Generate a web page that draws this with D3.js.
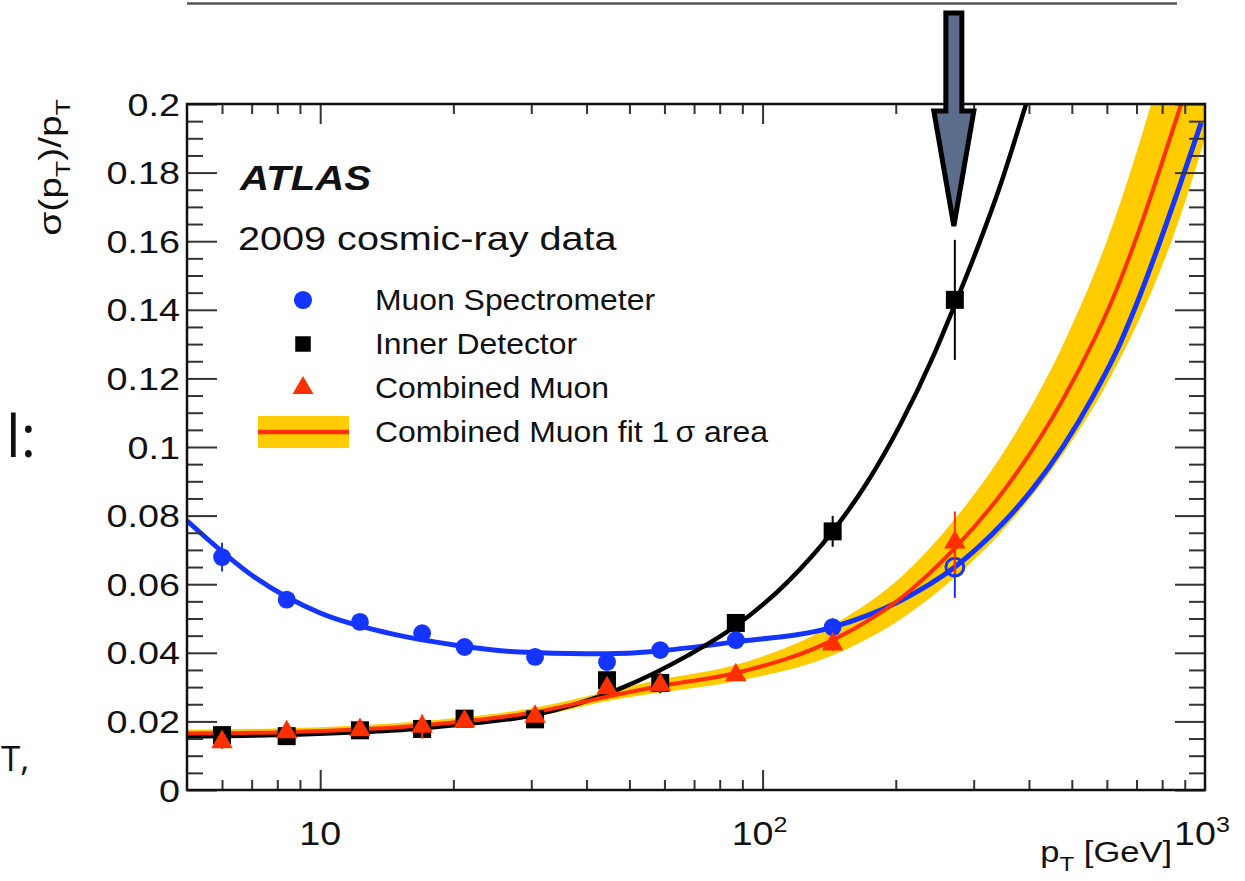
<!DOCTYPE html>
<html>
<head>
<meta charset="utf-8">
<script src="https://cdn.jsdelivr.net/npm/d3@7"></script>
<style>
  html, body { margin: 0; padding: 0; background: #fff; overflow: hidden; }
  svg { display: block; }
  text { font-family: "Liberation Sans", Arial, Helvetica, sans-serif; fill: #111; }
</style>
</head>
<body>
<svg id="chart" width="1245" height="881"></svg>
<script>
// ---- measured resolution points (pT in GeV) ----
const ptPoints = [6.0, 8.4, 12.3, 17.0, 21.2, 30.6, 44.5, 58.7, 87, 144, 272];
const msValues = [0.0679, 0.0555, 0.0490, 0.0457, 0.0417, 0.0388, 0.0373, 0.0408, 0.0437, 0.0475, 0.0650];
const msErrors = [0.0042, 0.0015, 0.0012, 0.0012, 0.0010, 0.0010, 0.0015, 0.0015, 0.0020, 0.0025, 0.0090];
const idValues = [0.0160, 0.0157, 0.0174, 0.0178, 0.0208, 0.0206, 0.0320, 0.0312, 0.0487, 0.0754, 0.1429];
const idErrors = [0.0012, 0.0012, 0.0012, 0.0012, 0.0012, 0.0015, 0.0020, 0.0030, 0.0025, 0.0045, 0.0175];
const cbValues = [0.0140, 0.0169, 0.0175, 0.0185, 0.0200, 0.0214, 0.0297, 0.0306, 0.0335, 0.0425, 0.0722];
const cbErrors = [0.0020, 0.0015, 0.0015, 0.0035, 0.0015, 0.0015, 0.0015, 0.0020, 0.0015, 0.0020, 0.0090];

// ---- fitted resolution curves ----
const msFitPt  = [5, 7.1, 10, 14.2, 20.1, 28.3, 40, 49.4, 58.7, 85.6, 144, 205, 272, 350, 408, 477, 561, 644, 687, 980];
const msFitVal = [0.0785, 0.0621, 0.0516, 0.0458, 0.0423, 0.0402, 0.0397, 0.0399, 0.0406, 0.0431, 0.0475, 0.0552, 0.0650, 0.0779, 0.0878, 0.1000, 0.1152, 0.1304, 0.1390, 0.1945];

const idFitPt  = [5, 8, 12, 16, 20, 30, 47.5, 67.5, 87.5, 114, 144, 172, 204, 243, 272, 308, 344, 376, 394];
const idFitVal = [0.0156, 0.0160, 0.0168, 0.0177, 0.0189, 0.0217, 0.0295, 0.0391, 0.0481, 0.0607, 0.0754, 0.0895, 0.1061, 0.1264, 0.1415, 0.1590, 0.1760, 0.1915, 0.2000];

const cbFitPt  = [5, 8, 10, 15, 20, 30, 47.5, 58.7, 87.5, 144, 208, 272, 357, 424, 477, 561, 604, 883];
const cbFitVal = [0.0165, 0.0168, 0.0172, 0.0183, 0.0197, 0.0225, 0.0280, 0.0303, 0.0342, 0.0437, 0.0565, 0.0705, 0.0886, 0.1027, 0.1138, 0.1312, 0.1401, 0.2000];

// 1 sigma area around the combined fit
const bandPt   = [5, 10, 20, 30, 47.5, 58.7, 87.5, 144, 208, 272, 357, 477, 604, 883, 1000];
const bandLow  = [0.0154, 0.0162, 0.0186, 0.0212, 0.0266, 0.0284, 0.0318, 0.0393, 0.0503, 0.0620, 0.0771, 0.0979, 0.1191, 0.1680, 0.1900];
const bandHigh = [0.0176, 0.0183, 0.0209, 0.0238, 0.0296, 0.0322, 0.0366, 0.0481, 0.0627, 0.0790, 0.1001, 0.1297, 0.1611, 0.2320, 0.2600];

// ---- axis ticks ----
const yMajor = [0, 0.02, 0.04, 0.06, 0.08, 0.1, 0.12, 0.14, 0.16, 0.18, 0.2];
const yMinor = d3.range(0, 0.2001, 0.005).filter(v => Math.abs(v / 0.02 - Math.round(v / 0.02)) > 1e-6);
const xMajor = [10, 100];
const xMinor = [6, 7, 8, 9, 20, 30, 40, 50, 60, 70, 80, 90, 200, 300, 400, 500, 600, 700, 800, 900];
const xLabels = [{v: 10, base: "10", exp: ""}, {v: 100, base: "10", exp: "2"}, {v: 1000, base: "10", exp: "3"}];

const legendItems = [
  {label: "Muon Spectrometer", kind: "ms"},
  {label: "Inner Detector", kind: "id"},
  {label: "Combined Muon", kind: "cb"},
  {label: "Combined Muon fit 1\u2009\u03c3 area", kind: "band"}
];

// ---- colours ----
const BLUE = "#1434ff", RED = "#ff3000", YELLOW = "#ffcc00", BLACK = "#000";

const svg = d3.select("#chart");
const L = 187, R = 1205, T = 104, B = 790;
const x = d3.scaleLog().domain([5, 1000]).range([L, R]);
const y = d3.scaleLinear().domain([0, 0.2]).range([B, T]);

// horizontally widened text helper
function label(g, px, py, str, size, sx, anchor, extra) {
  const t = g.append("text")
    .attr("transform", `translate(${px},${py}) scale(${sx},1)`)
    .attr("text-anchor", anchor || "start")
    .style("font-size", size + "px");
  if (str !== null) t.text(str);
  if (extra) extra(t);
  return t;
}

// ---- fragments of surrounding page text ----
svg.append("line").attr("x1", L).attr("x2", 1177).attr("y1", 3.5).attr("y2", 3.5)
  .attr("stroke", "#555").attr("stroke-width", 2.5);
svg.append("text").attr("x", 6).attr("y", 457)
  .style("font-family", "'Open Sans', 'Noto Sans', sans-serif").style("font-size", "58px").text("l:");
svg.append("text").attr("x", 1).attr("y", 771)
  .style("font-family", "'Open Sans', 'Noto Sans', sans-serif").style("font-size", "35px").text("T,");

// ---- plot area ----
const defs = svg.append("defs");
defs.append("clipPath").attr("id", "plotClip")
  .append("rect").attr("x", L).attr("y", T).attr("width", R - L).attr("height", B - T);
const plot = svg.append("g").attr("clip-path", "url(#plotClip)");

const lineOf = (pts, vals) => d3.line()
  .x((d, i) => x(pts[i])).y((d, i) => y(vals[i]))
  .curve(d3.curveMonotoneX)(vals);

// 1 sigma band
plot.append("path")
  .attr("d", d3.area()
    .x((d, i) => x(bandPt[i])).y0((d, i) => y(bandLow[i])).y1((d, i) => y(bandHigh[i]))
    .curve(d3.curveMonotoneX)(bandLow))
  .attr("fill", YELLOW);

plot.append("path").attr("d", lineOf(msFitPt, msFitVal))
  .attr("fill", "none").attr("stroke", BLUE).attr("stroke-width", 5);
plot.append("path").attr("d", lineOf(idFitPt, idFitVal))
  .attr("fill", "none").attr("stroke", BLACK).attr("stroke-width", 4.5);
plot.append("path").attr("d", lineOf(cbFitPt, cbFitVal))
  .attr("fill", "none").attr("stroke", RED).attr("stroke-width", 4);

// markers with error bars
const sym = {
  ms: d3.symbol(d3.symbolCircle, 250)(),
  id: d3.symbol(d3.symbolSquare, 324)(),
  cb: d3.symbol(d3.symbolTriangle, 200)()
};
function drawSeries(vals, errs, kind, color) {
  const g = svg.append("g");
  g.selectAll("line").data(vals).join("line")
    .attr("x1", (d, i) => x(ptPoints[i])).attr("x2", (d, i) => x(ptPoints[i]))
    .attr("y1", (d, i) => y(d - errs[i])).attr("y2", (d, i) => y(d + errs[i]))
    .attr("stroke", color).attr("stroke-width", 2);
  g.selectAll("path").data(vals).join("path")
    .attr("d", sym[kind])
    .attr("transform", (d, i) => `translate(${x(ptPoints[i])},${y(d)})`)
    .attr("fill", (d, i) => (kind === "ms" && i === vals.length - 1) ? "none" : color)
    .attr("stroke", (d, i) => (kind === "ms" && i === vals.length - 1) ? color : "none")
    .attr("stroke-width", 3);
}
drawSeries(idValues, idErrors, "id", BLACK);
drawSeries(msValues, msErrors, "ms", BLUE);
drawSeries(cbValues, cbErrors, "cb", RED);

// ---- frame and ticks ----
const tickStyle = g => g.call(s => s.select(".domain").remove())
  .selectAll("line").attr("stroke", "#333").attr("stroke-width", 2);
svg.append("g").attr("transform", `translate(${L},0)`)
  .call(d3.axisLeft(y).tickValues(yMajor).tickSize(-30).tickFormat("")).call(tickStyle);
svg.append("g").attr("transform", `translate(${L},0)`)
  .call(d3.axisLeft(y).tickValues(yMinor).tickSize(-16).tickFormat("")).call(tickStyle);
svg.append("g").attr("transform", `translate(${R},0)`)
  .call(d3.axisRight(y).tickValues(yMajor).tickSize(-30).tickFormat("")).call(tickStyle);
svg.append("g").attr("transform", `translate(${R},0)`)
  .call(d3.axisRight(y).tickValues(yMinor).tickSize(-16).tickFormat("")).call(tickStyle);
svg.append("g").attr("transform", `translate(0,${B})`)
  .call(d3.axisBottom(x).tickValues(xMajor).tickSize(-20).tickFormat("")).call(tickStyle);
svg.append("g").attr("transform", `translate(0,${B})`)
  .call(d3.axisBottom(x).tickValues(xMinor).tickSize(-10).tickFormat("")).call(tickStyle);
svg.append("g").attr("transform", `translate(0,${T})`)
  .call(d3.axisTop(x).tickValues(xMajor).tickSize(-20).tickFormat("")).call(tickStyle);
svg.append("g").attr("transform", `translate(0,${T})`)
  .call(d3.axisTop(x).tickValues(xMinor).tickSize(-10).tickFormat("")).call(tickStyle);

svg.append("rect").attr("x", L).attr("y", T).attr("width", R - L).attr("height", B - T)
  .attr("fill", "none").attr("stroke", "#111").attr("stroke-width", 2.5);

// ---- tick labels ----
const tl = svg.append("g");
yMajor.forEach(v => label(tl, 180, y(v) + 11.5, String(+v.toFixed(2)), 32, 1.18, "end"));
xLabels.forEach(d => {
  label(tl, x(d.v) + (d.exp ? -3 : 0), 845, null, 33, 1.14, "middle", t => {
    t.append("tspan").text(d.base);
    if (d.exp) t.append("tspan").attr("dy", -13).style("font-size", "22px").text(d.exp);
  });
});

// ---- axis titles ----
label(svg, 1172, 862, null, 30, 1.15, "end", t => {
  t.append("tspan").text("p");
  t.append("tspan").attr("dy", 9).style("font-size", "21px").text("T");
  t.append("tspan").attr("dy", -9).text(" [GeV]");
});
const yt = svg.append("g").attr("transform", "translate(61,99) rotate(-90)");
label(yt, 0, 0, null, 31, 1.26, "end", t => {
  t.append("tspan").text("\u03c3(p");
  t.append("tspan").attr("dy", 9).style("font-size", "21px").text("T");
  t.append("tspan").attr("dy", -9).text(")/p");
  t.append("tspan").attr("dy", 9).style("font-size", "21px").text("T");
});

// ---- header texts ----
label(svg, 240, 190, "ATLAS", 35, 1.15, "start").style("font-weight", "bold").style("font-style", "italic");
label(svg, 238, 250, "2009 cosmic-ray data", 34, 1.165, "start");

// ---- legend ----
const lg = svg.append("g");
legendItems.forEach((d, i) => {
  const cy = 300 + i * 44;
  if (d.kind === "band") {
    lg.append("rect").attr("x", 258).attr("y", cy - 16).attr("width", 91).attr("height", 32).attr("fill", YELLOW);
    lg.append("line").attr("x1", 258).attr("x2", 349).attr("y1", cy).attr("y2", cy)
      .attr("stroke", RED).attr("stroke-width", 4.5);
  } else {
    const color = d.kind === "ms" ? BLUE : d.kind === "id" ? BLACK : RED;
    const size = d.kind === "ms" ? 260 : d.kind === "id" ? 240 : 190;
    const shape = d.kind === "ms" ? d3.symbolCircle : d.kind === "id" ? d3.symbolSquare : d3.symbolTriangle;
    lg.append("path").attr("d", d3.symbol(shape, size)()).attr("transform", `translate(303,${cy})`).attr("fill", color);
  }
  label(lg, 375, cy + 10, d.label, 29, 1.1, "start");
});

// ---- arrow pointing at the highest-pT inner detector point ----
const ax = x(ptPoints[ptPoints.length - 1]) - 1;
const arrow = [[ax - 8, 13], [ax + 8, 13], [ax + 8, 111], [ax + 20, 111], [ax, 226], [ax - 20, 111], [ax - 8, 111]];
svg.append("path").attr("d", d3.line()(arrow) + "Z")
  .attr("fill", "#5b6d8b").attr("stroke", "#000").attr("stroke-width", 5).attr("stroke-linejoin", "miter");
</script>
</body>
</html>
